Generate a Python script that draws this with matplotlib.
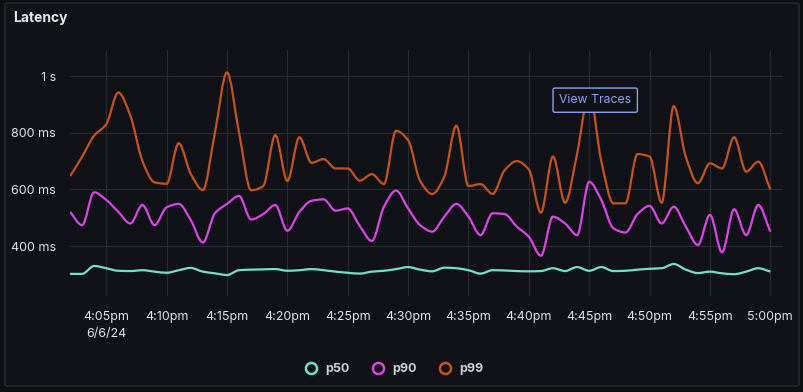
import numpy as np
import matplotlib
matplotlib.use("Agg")
import matplotlib.pyplot as plt
from matplotlib.path import Path
from matplotlib.patches import PathPatch, FancyBboxPatch
from matplotlib.lines import Line2D

# minutes after 4:02pm, one sample per minute
minutes = list(range(59))

p50 = [302, 302, 330, 322, 313, 312, 315, 310, 306, 315,
       323, 310, 304, 298, 315, 317, 318, 319, 313, 315,
       319, 315, 310, 306, 303, 310, 313, 319, 326, 317,
       311, 324, 322, 315, 303, 315, 314, 312, 311, 312,
       322, 312, 326, 313, 326, 312, 313, 317, 320, 322,
       337, 317, 305, 310, 304, 301, 310, 322, 310]

p90 = [521, 474, 590, 563, 521, 480, 545, 474, 537, 549,
       492, 413, 516, 549, 577, 494, 513, 545, 454, 521,
       560, 565, 525, 533, 471, 418, 539, 596, 533, 474,
       451, 504, 549, 504, 439, 516, 513, 469, 433, 366,
       504, 480, 439, 627, 563, 463, 448, 513, 542, 480,
       539, 469, 404, 510, 378, 530, 439, 545, 451]

p99 = [647, 715, 790, 830, 942, 860, 700, 625, 620, 763,
       655, 598, 800, 1013, 800, 597, 612, 792, 630, 784,
       694, 707, 674, 674, 631, 654, 619, 807, 774, 630,
       584, 645, 825, 612, 619, 584, 668, 700, 670, 518,
       716, 553, 727, 940, 700, 551, 551, 725, 716, 553,
       894, 715, 622, 692, 674, 784, 663, 698, 600]

series_names = ["p50", "p90", "p99"]
series_colors = ["#72e3c2", "#d945e6", "#c4531f"]

tick_minutes = [3, 8, 13, 18, 23, 28, 33, 38, 43, 48, 53, 58]
tick_labels = ["4:05pm\n6/6/24", "4:10pm", "4:15pm", "4:20pm", "4:25pm", "4:30pm",
               "4:35pm", "4:40pm", "4:45pm", "4:50pm", "4:55pm", "5:00pm"]
ytick_values = [400, 600, 800, 1000]
ytick_labels = ["400 ms", "600 ms", "800 ms", "1 s"]

plt.rcParams['font.family'] = ['Inter', 'DejaVu Sans']

bg = "#111217"
grid_c = "#2a2c32"
text_c = "#e2e3e8"


def smooth_path(xs, ys):
    # monotone cubic drawn as bezier segments
    xs = np.asarray(xs, float)
    ys = np.asarray(ys, float)
    d = np.diff(ys) / np.diff(xs)
    m = np.zeros_like(ys)
    m[0] = d[0]
    m[-1] = d[-1]
    for k in range(1, len(ys) - 1):
        if d[k - 1] * d[k] > 0:
            m[k] = 2 * d[k - 1] * d[k] / (d[k - 1] + d[k])
    verts = [(xs[0], ys[0])]
    codes = [Path.MOVETO]
    for k in range(len(xs) - 1):
        h = xs[k + 1] - xs[k]
        verts += [(xs[k] + h / 3, ys[k] + m[k] * h / 3),
                  (xs[k + 1] - h / 3, ys[k + 1] - m[k + 1] * h / 3),
                  (xs[k + 1], ys[k + 1])]
        codes += [Path.CURVE4] * 3
    return Path(verts, codes)


fig = plt.figure(figsize=(8.04, 3.92), dpi=100)
fig.patch.set_facecolor("#0e0f13")
W, H = 804, 392

panel = FancyBboxPatch((5 / W, 6 / H), 794 / W, 383 / H, transform=fig.transFigure,
                       boxstyle="round,pad=0,rounding_size=0.004",
                       facecolor=bg, edgecolor="#2c2e34", linewidth=1, zorder=-5)
fig.patches.append(panel)

ax = fig.add_axes([70 / W, (392 - 296) / H, (783 - 70) / W, (296 - 50) / H])
ax.set_facecolor(bg)
ax.patch.set_alpha(0)

for vals, color in zip([p50, p90, p99], series_colors):
    ax.add_patch(PathPatch(smooth_path(minutes, vals), fill=False,
                           edgecolor=color, linewidth=1.6, zorder=3))

ax.set_xlim(0, 59.05)
ax.set_ylim(224, 1092)

ax.set_xticks(tick_minutes)
ax.set_xticklabels(tick_labels)
ax.set_yticks(ytick_values)
ax.set_yticklabels(ytick_labels)
for lbl in ax.get_xticklabels():
    lbl.set_linespacing(1.55)
ax.tick_params(length=0, colors=text_c, labelsize=9)
ax.tick_params(axis='x', pad=11)
ax.tick_params(axis='y', pad=10)
ax.grid(True, color=grid_c, linewidth=0.8)
for s in ax.spines.values():
    s.set_visible(False)

ax.text(43.5, 915, "View Traces", ha="center", va="center", fontsize=8.8,
        color="#8fa2ef", zorder=5,
        bbox=dict(boxstyle="round,pad=0.5,rounding_size=0.15", facecolor=bg,
                  edgecolor="#8fa2ef", linewidth=1))

fig.text(13 / W, 1 - 18 / H, "Latency", ha="left", va="center", fontsize=10,
         fontweight="bold", color="#e6e7ea")

handles = [Line2D([], [], marker="o", linestyle="None", markerfacecolor="none",
                  markeredgecolor=c, markersize=8, markeredgewidth=1.8)
           for c in series_colors]
leg = fig.legend(handles, series_names, loc="center", bbox_to_anchor=(394 / W, 1 - 369 / H),
                 ncol=3, frameon=False, fontsize=9, handlelength=1.0,
                 handletextpad=0.6, columnspacing=1.8)
for t in leg.get_texts():
    t.set_color("#cfd0d6")
    t.set_fontweight("bold")

fig.savefig("out.png", dpi=100, facecolor=fig.get_facecolor())
